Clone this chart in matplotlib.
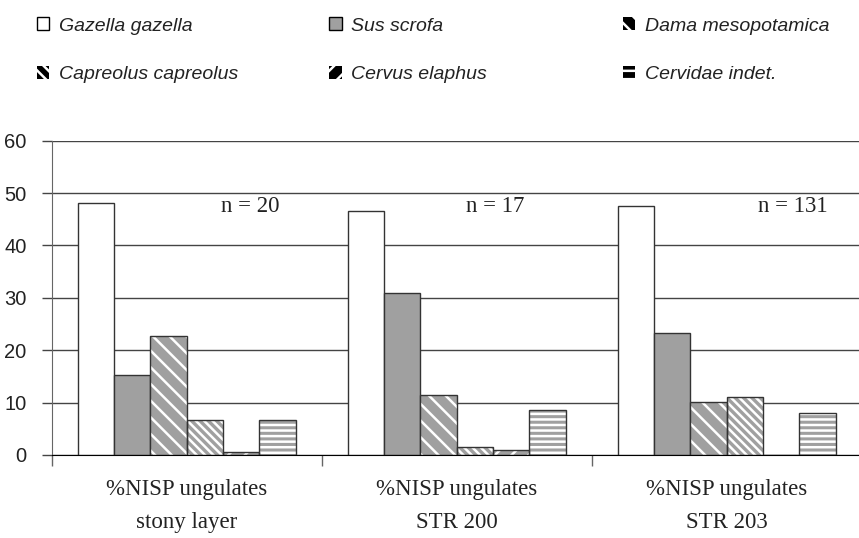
import numpy as np
import matplotlib
matplotlib.use('Agg')
from matplotlib import pyplot as plt
from matplotlib.patches import Patch

# data
groups = ['%NISP ungulates\nstony layer', '%NISP ungulates\nSTR 200', '%NISP ungulates\nSTR 203']
species = ['Gazella gazella', 'Sus scrofa', 'Dama mesopotamica',
           'Capreolus capreolus', 'Cervus elaphus', 'Cervidae indet.']
gazella = [48.1, 46.6, 47.5]
sus = [15.2, 31.0, 23.2]
dama = [22.7, 11.5, 10.1]
capreolus = [6.6, 1.5, 11.0]
cervus = [0.5, 0.9, 0.0]
cervidae = [6.6, 8.6, 8.0]
n_labels = ['n = 20', 'n = 17', 'n = 131']

series = [gazella, sus, dama, capreolus, cervus, cervidae]
fills = ['white', '#a0a0a0', '#a0a0a0', '#a0a0a0', '#a0a0a0', '#a0a0a0']
hatches = [None, None, '\\\\', '\\\\\\\\', '//', '---']
legend_fills = ['white', '#a0a0a0', 'black', 'black', 'black', 'black']
legend_hatches = [None, None, '\\\\', '\\\\\\', '//', '--']

sans = ['Liberation Sans']
serif = ['Liberation Serif']
plt.rcParams['hatch.linewidth'] = 1.8

fig = plt.figure(figsize=(8.59, 5.38), dpi=100)
ax = fig.add_axes([0.0602, 0.1543, 0.943, 0.5842])

x = np.arange(len(groups))
w = 0.1345
for i, vals in enumerate(series):
    pos = x + (i - 2.5) * w
    if hatches[i]:
        ax.bar(pos, vals, w, color=fills[i], edgecolor='white', linewidth=0,
               hatch=hatches[i], zorder=2)
        ax.bar(pos, vals, w, fill=False, edgecolor='#333333', linewidth=1, zorder=3)
    else:
        ax.bar(pos, vals, w, color=fills[i], edgecolor='#333333', linewidth=1, zorder=2)

for i, t in enumerate(n_labels):
    xs = [0.234, 1.142, 2.244][i]
    ax.text(xs, 47.5, t, ha='center', va='center', fontsize=16.5, family=serif, color='#222222')

ax.set_xlim(-0.5, 2.5)
ax.set_ylim(0, 60)
ax.set_yticks(range(0, 61, 10))
ax.yaxis.grid(True, color='#444444', linewidth=1)
ax.set_axisbelow(True)
ax.set_xticks(x)
ax.set_xticklabels(groups, fontsize=16.5, family=serif, linespacing=1.8, color='#222222')
ax.set_xticks([-0.5, 0.5, 1.5], minor=True)
ax.tick_params(axis='x', which='major', length=0, pad=17)
ax.tick_params(axis='x', which='minor', length=8, color='#666666', width=1)
ax.tick_params(axis='y', length=7, color='#444444', width=1, pad=11, labelcolor='#222222')
for lab in ax.get_yticklabels():
    lab.set_family(sans)
    lab.set_fontsize(14.5)
ax.spines['top'].set_visible(False)
ax.spines['right'].set_visible(False)
ax.spines['left'].set_color('#666666')
ax.spines['bottom'].set_color('black')

handles = [Patch(facecolor=legend_fills[i], edgecolor='black' if i < 2 else 'white',
                 hatch=legend_hatches[i], linewidth=1 if i < 2 else 0, label=species[i])
           for i in range(len(species))]
cols = [0.0427, 0.383, 0.725]
for c in range(3):
    fig.legend(handles=[handles[c], handles[c + 3]], loc='upper left',
               bbox_to_anchor=(cols[c], 0.968), frameon=False, borderpad=0,
               borderaxespad=0, handlelength=0.65, handleheight=0.65,
               handletextpad=0.5, labelspacing=1.6,
               prop={'family': sans, 'style': 'italic', 'size': 14})
for leg in fig.legends:
    for t in leg.get_texts():
        t.set_color('#222222')

fig.savefig('out.png', dpi=100)
